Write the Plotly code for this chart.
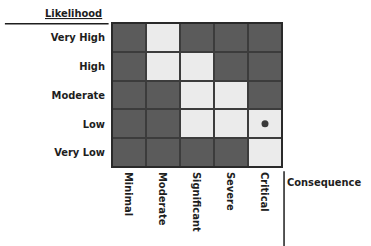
import plotly.graph_objects as go

consequence = ["Minimal", "Moderate", "Significant", "Severe", "Critical"]
likelihood = ["Very Low", "Low", "Moderate", "High", "Very High"]
# 1 = light (acceptable band), 0 = dark
risk = [
    [0, 0, 0, 0, 1],   # Very Low
    [0, 0, 1, 1, 1],   # Low
    [0, 0, 1, 1, 0],   # Moderate
    [0, 1, 1, 0, 0],   # High
    [0, 1, 0, 0, 0],   # Very High
]
marker_cons = ["Critical"]
marker_like = ["Low"]

FONT = "DejaVu Sans Condensed, Liberation Sans Narrow, sans-serif"
TXT = dict(family=FONT, size=11, color="#1e1e1e", weight="bold")

fig = go.Figure()
fig.add_trace(go.Heatmap(
    x=consequence, y=likelihood, z=risk,
    colorscale=[[0, "#5b5b5b"], [1, "#ebebeb"]],
    zmin=0, zmax=1, showscale=False, xgap=2, ygap=2, hoverinfo="skip",
))
fig.add_trace(go.Scatter(
    x=marker_cons, y=marker_like, mode="markers",
    marker=dict(size=7, color="#3a3a3a"), hoverinfo="skip", showlegend=False,
))

fig.update_layout(
    width=371, height=246,
    margin=dict(l=112, r=89, t=23, b=79),
    paper_bgcolor="white", plot_bgcolor="#3c3c3c",
    font=dict(family=FONT, size=11, color="#1e1e1e"),
    showlegend=False,
)
fig.update_xaxes(showgrid=False, zeroline=False, tickangle=90, ticks="", automargin=False,
                 ticklabelstandoff=4, tickfont=TXT)
fig.update_yaxes(showgrid=False, zeroline=False, ticks="", automargin=False,
                 ticklabelstandoff=6, tickfont=TXT)

# frame around the grid
fig.add_shape(type="rect", xref="paper", yref="paper", x0=0, x1=1, y0=0, y1=1,
              line=dict(color="#2a2a2a", width=2))
# Likelihood header line
fig.add_shape(type="line", xref="paper", yref="paper", x0=-0.63, x1=-0.02, y0=0.995, y1=0.995,
              line=dict(color="#1e1e1e", width=1.5))
# Consequence divider
fig.add_shape(type="line", xref="paper", yref="paper", x0=1.012, x1=1.012, y0=-0.03, y1=-0.56,
              line=dict(color="#1e1e1e", width=1.5))

fig.add_annotation(text="<u>Likelihood</u>", xref="paper", yref="paper",
                   x=-0.047, y=1.0, xanchor="right", yanchor="bottom", yshift=1,
                   showarrow=False, font=TXT)
fig.add_annotation(text="Consequence", xref="paper", yref="paper",
                   x=1.02, y=-0.105, xanchor="left", yanchor="middle",
                   showarrow=False, font=TXT)

fig.write_html("out.html", config={"displayModeBar": False},
               post_script="document.body.style.margin='0px';document.body.style.padding='0px';")
